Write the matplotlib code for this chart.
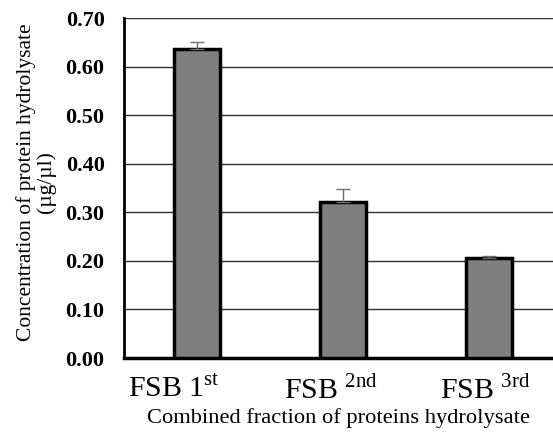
import matplotlib.pyplot as plt
import matplotlib.transforms as mtransforms
import numpy as np

plt.rcParams['font.family'] = 'Liberation Serif'
plt.rcParams['mathtext.fontset'] = 'custom'
plt.rcParams['mathtext.rm'] = 'Liberation Serif'

fractions = ["FSB 1$^{\\mathrm{st}}$", "FSB $^{\\mathrm{2nd}}$", "FSB $^{\\mathrm{3rd}}$"]
concentration = [0.636, 0.322, 0.206]
std_err = [0.014, 0.026, 0.003]
yticks = [0.0, 0.1, 0.2, 0.3, 0.4, 0.5, 0.6, 0.7]

fig = plt.figure(figsize=(5.53, 4.32), dpi=100)
ax = fig.add_axes([124 / 553, 1 - 358 / 432, 438 / 553, 340 / 432])

x = np.arange(len(fractions))
ax.bar(x, concentration, width=0.32, color='#7f7f7f', edgecolor='black',
       linewidth=2.5, zorder=3)
ax.errorbar(x, concentration, yerr=[[0] * 3, std_err], fmt='none',
            ecolor='#707070', elinewidth=1, capsize=5, capthick=1, zorder=4)

ax.set_xlim(-0.5, 2.5)
ax.set_ylim(0, 0.7)
ax.set_yticks(yticks)
ax.set_yticklabels([f"{v:.2f}" for v in yticks], fontsize=16, fontweight='bold')
ax.yaxis.grid(True, color='#303030', linewidth=1)
ax.set_axisbelow(True)
ax.tick_params(axis='y', length=0, pad=14)

ax.set_xticks(x)
ax.set_xticklabels(fractions, fontsize=21.5)
ax.tick_params(axis='x', length=0, pad=12)
# category labels sit a little left of their bars
for lbl, dx in zip(ax.get_xticklabels(), [-23, -12, -4]):
    lbl.set_transform(lbl.get_transform() +
                      mtransforms.ScaledTranslation(dx / 100, 0, fig.dpi_scale_trans))

for side in ['top', 'right']:
    ax.spines[side].set_visible(False)
ax.spines['left'].set_linewidth(2)
ax.spines['bottom'].set_linewidth(2.5)

ax.set_ylabel("Concentration of protein hydrolysate\n(µg/µl)", fontsize=15.5,
              linespacing=1.0)
ax.yaxis.set_label_coords(-0.155, 0.518)
ax.set_xlabel("Combined fraction of proteins hydrolysate", fontsize=16.2)
ax.xaxis.set_label_coords(0.489, -0.148)

fig.savefig("out.png", dpi=100)
